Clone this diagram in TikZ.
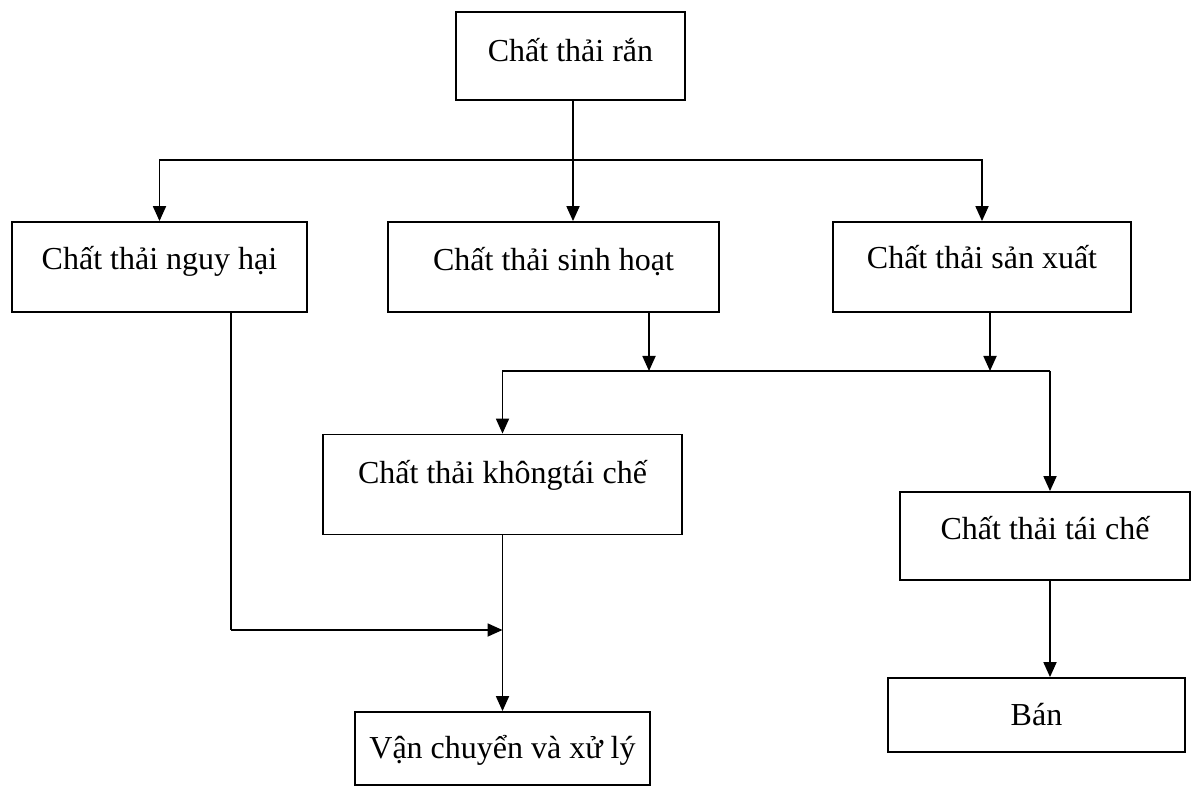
\documentclass[tikz,border=0pt]{standalone}
\usepackage{fontspec}
\setmainfont{Liberation Serif}
\usetikzlibrary{arrows.meta}
\begin{document}
\begin{tikzpicture}[x=1pt,y=-1pt,
  box/.style={draw,line width=1.8pt,rectangle,inner sep=0pt},
  lbl/.style={anchor=base,inner sep=0pt,font=\fontsize{32}{38}\selectfont},
  conn/.style={line width=1.8pt},
  arr/.style={line width=1.8pt,-{Triangle[length=15pt,width=13pt]}}]
\useasboundingbox[fill=white] (0,0) rectangle (1192,786);
% boxes
\node[box,minimum width=229pt,minimum height=88pt] (top) at (570.5,56) {};
\node[box,minimum width=295pt,minimum height=90pt] (nguy) at (159.5,267) {};
\node[box,minimum width=331pt,minimum height=90pt] (sinh) at (553.5,267) {};
\node[box,minimum width=298pt,minimum height=90pt] (sx) at (982,267) {};
\node[box,minimum width=359pt,minimum height=100pt] (ktc) at (502.5,484.5) {};
\node[box,minimum width=290pt,minimum height=88pt] (tc) at (1045,536) {};
\node[box,minimum width=297pt,minimum height=74pt] (ban) at (1036.5,715) {};
\node[box,minimum width=295pt,minimum height=73pt] (vc) at (502.5,748.5) {};
% labels
\node[lbl] (ltop) at (570.5,62) {Chất thải rắn};
\node[lbl] (lnguy) at (159.5,270) {Chất thải nguy hại};
\node[lbl] (lsinh) at (553.5,271) {Chất thải sinh hoạt};
\node[lbl] (lsx) at (982,269) {Chất thải sản xuất};
\node[lbl] (lktc) at (502.5,483) {Chất thải khôngtái chế};
\node[lbl] (ltc) at (1045,539) {Chất thải tái chế};
\node[lbl] (lban) at (1036.5,725) {Bán};
\node[lbl] (lvc) at (502.5,758) {Vận chuyển và xử lý};
% junctions
\coordinate (j1) at (573,160);
\coordinate (j2) at (649,371);
\coordinate (j3) at (990,371);
\coordinate (c4) at (1050,371);
\coordinate (j5) at (231,630);
% connectors
\draw[conn] (j1 |- top.south) -- (j1);
\draw[arr] (j1) -| (nguy.north);
\draw[arr] (j1) -- (j1 |- sinh.north);
\draw[arr] (j1) -| (sx.north);
\draw[arr] (j2 |- sinh.south) -- (j2);
\draw[arr] (j3 |- sx.south) -- (j3);
\draw[conn] (j2) -- (c4);
\draw[arr] (j2) -| (ktc.north);
\draw[arr] (c4) -- (c4 |- tc.north);
\draw[arr] (c4 |- tc.south) -- (c4 |- ban.north);
\draw[conn] (j5 |- nguy.south) -- (j5);
\draw[arr] (j5) -- (j5 -| ktc.south);
\draw[arr] (ktc.south) -- (vc.north);
\end{tikzpicture}
\end{document}
